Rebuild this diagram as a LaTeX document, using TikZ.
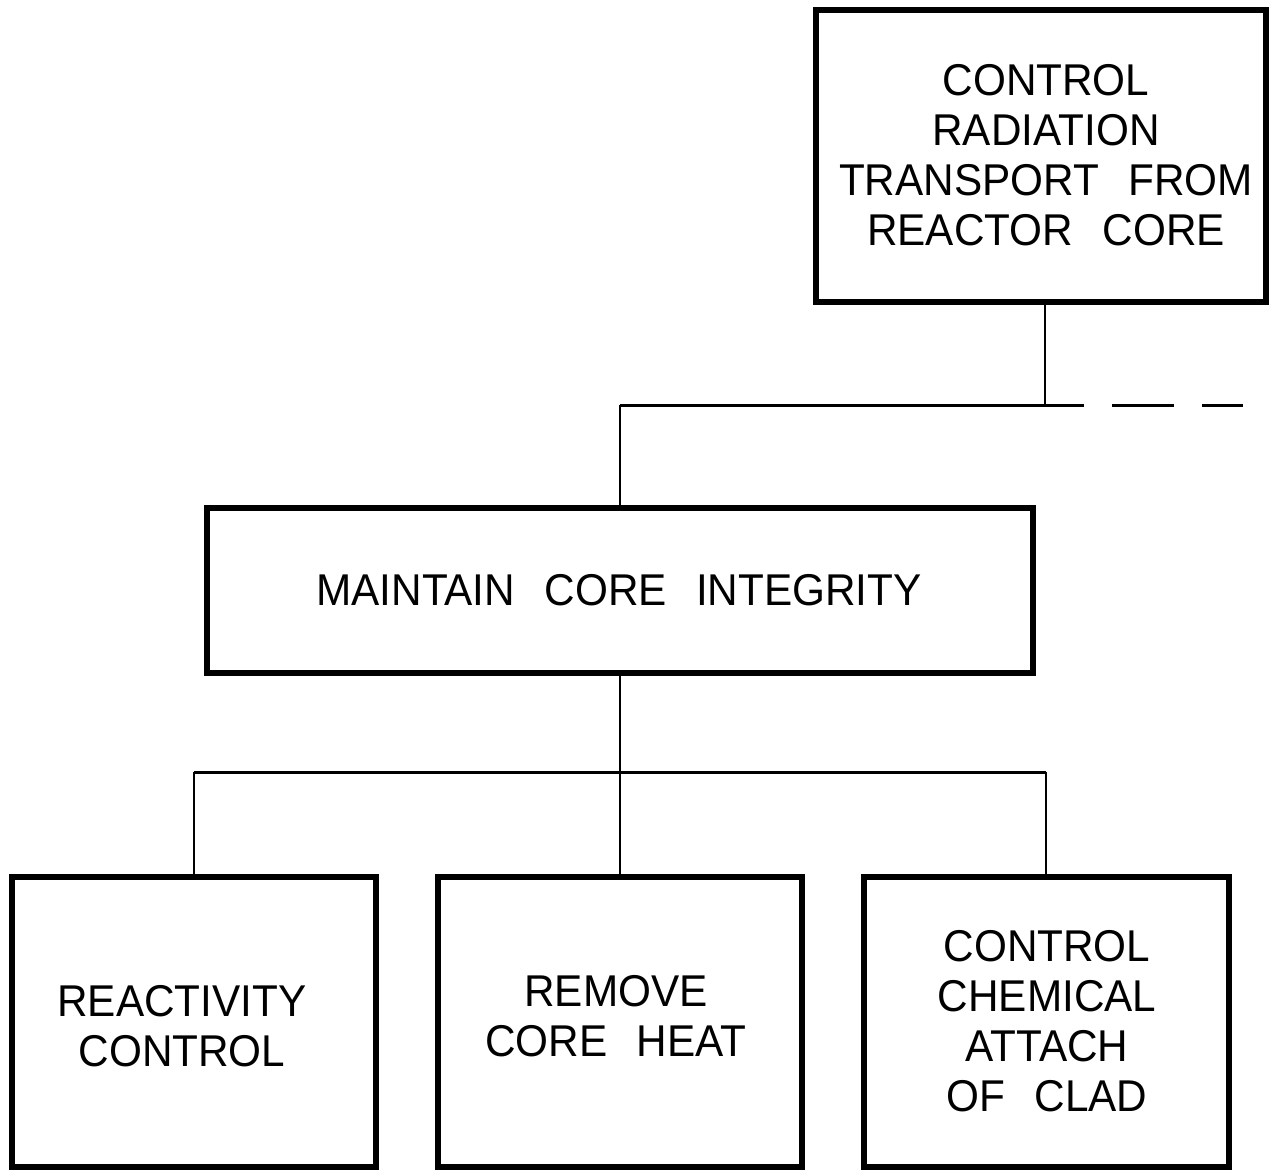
\documentclass[tikz,border=0pt]{standalone}
\usepackage{fontspec}
\setmainfont{Liberation Sans}[FakeStretch=0.95, WordSpace=2.5]
\begin{document}
\begin{tikzpicture}[x=0.03cm,y=-0.03cm,
  box/.style={draw, line width=0.18cm, inner sep=0pt, outer sep=0pt},
  lbl/.style={inner sep=0pt, align=center, font=\fontsize{38}{42.5}\selectfont},
  conn/.style={line width=0.065cm},
  busline/.style={line width=0.09cm}]
\useasboundingbox[fill=white] (0,0) rectangle (1269,1170);
% boxes
\node[box, minimum width=13.5cm, minimum height=8.76cm] (top) at (1041,156) {};
\node[box, minimum width=24.75cm, minimum height=4.95cm] (maint) at (620,590.5) {};
\node[box, minimum width=10.92cm, minimum height=8.7cm] (react) at (194,1022) {};
\node[box, minimum width=10.89cm, minimum height=8.7cm] (heat) at (620,1022) {};
\node[box, minimum width=10.95cm, minimum height=8.7cm] (chem) at (1046,1022) {};
% texts
\node[lbl] (ttop) at (1046,155) {CONTROL\\RADIATION\\TRANSPORT FROM\\REACTOR CORE};
\node[lbl] (tmaint) at (619,590) {MAINTAIN CORE INTEGRITY};
\node[lbl] (treact) at (182,1026) {REACTIVITY\\CONTROL};
\node[lbl] (theat) at (616,1016) {REMOVE\\CORE HEAT};
\node[lbl] (tchem) at (1047,1021) {CONTROL\\CHEMICAL\\ATTACH\\OF CLAD};
% upper connectors
\coordinate (j1) at (1045,405);
\coordinate (b1) at (620,405);
\coordinate (b1e) at (1084,405);
\coordinate (d1) at (1112,405);
\coordinate (d2) at (1174,405);
\coordinate (d3) at (1202,405);
\coordinate (d4) at (1243,405);
\draw[conn] (top.south -| j1) -- (j1);
\draw[busline] (b1) -- (b1e);
\draw[busline] (d1) -- (d2);
\draw[busline] (d3) -- (d4);
\draw[conn] (b1) -- (maint.north);
% lower connectors
\coordinate (bus) at (620,772);
\draw[conn] (maint.south) -- (bus);
\draw[busline] (react.north |- bus) -- (chem.north |- bus);
\draw[conn] (react.north |- bus) -- (react.north);
\draw[conn] (bus) -- (heat.north);
\draw[conn] (chem.north |- bus) -- (chem.north);
\end{tikzpicture}
\end{document}
